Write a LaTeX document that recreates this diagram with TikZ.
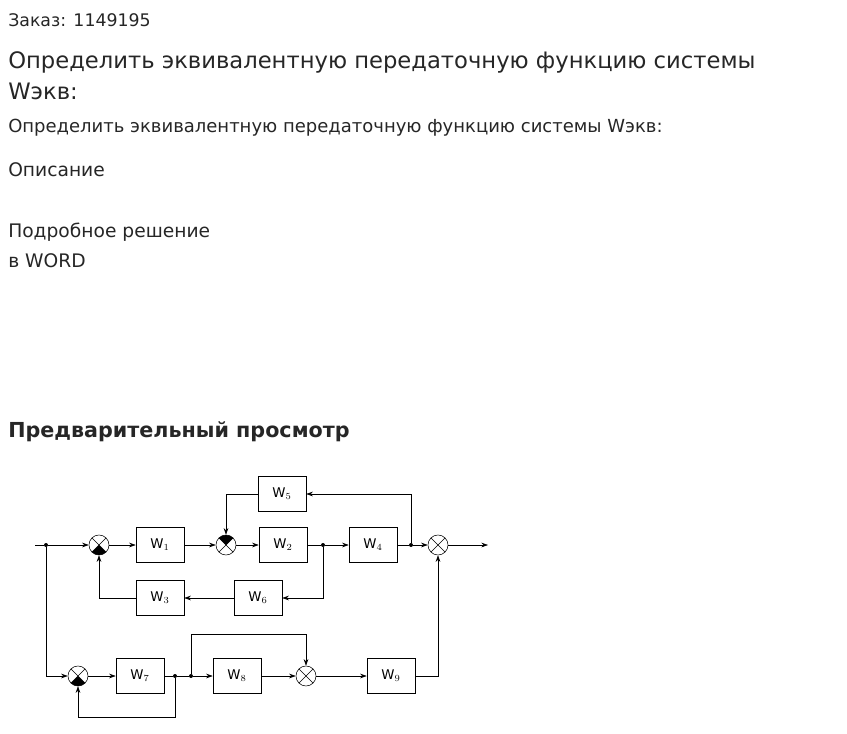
\documentclass[tikz,border=0pt]{standalone}
\usepackage{fontspec}
\setmainfont{DejaVu Sans}
\usetikzlibrary{arrows.meta}
\tikzset{
  >={Stealth[length=5pt,width=3.5pt]},
  blk/.style={draw, minimum width=36pt, minimum height=26pt, inner sep=0pt, font=\rmfamily},
  sum/.style={draw, circle, minimum size=15pt, inner sep=0pt,
    path picture={\draw (path picture bounding box.south west) -- (path picture bounding box.north east)
      (path picture bounding box.north west) -- (path picture bounding box.south east);}},
  sumdown/.style={sum, path picture={\fill (path picture bounding box.center) -- (225:12pt) arc (225:315:12pt) -- cycle;
    \draw (path picture bounding box.south west) -- (path picture bounding box.north east)
      (path picture bounding box.north west) -- (path picture bounding box.south east);}},
  sumup/.style={sum, path picture={\fill (path picture bounding box.center) -- (45:12pt) arc (45:135:12pt) -- cycle;
    \draw (path picture bounding box.south west) -- (path picture bounding box.north east)
      (path picture bounding box.north west) -- (path picture bounding box.south east);}},
  dot/.style={circle, fill, inner sep=0pt, minimum size=3pt},
  txt/.style={anchor=west, inner sep=0pt, text=black!85}
}
\newcommand{\Wn}[1]{$\mathrm{W}_{#1}$}
\begin{document}
\begin{tikzpicture}[x=0.75pt, y=-0.75pt]
\useasboundingbox (0,0) rectangle (847,733);
% Texts
\node[txt, font=\fontsize{13}{15}\selectfont] (order) at (8,20) {Заказ: 1149195};
\node[txt, font=\fontsize{17}{20}\selectfont] (head1) at (8,62) {Определить эквивалентную передаточную функцию системы};
\node[txt, font=\fontsize{17}{20}\selectfont] (head2) at (8,91) {Wэкв:};
\node[txt, font=\fontsize{13.5}{16}\selectfont] (task) at (8,128) {Определить эквивалентную передаточную функцию системы Wэкв:};
\node[txt, font=\fontsize{14}{16}\selectfont] (descr) at (8,170) {Описание};
\node[txt, font=\fontsize{14}{16}\selectfont] (sol1) at (8,232) {Подробное решение};
\node[txt, font=\fontsize{14}{16}\selectfont] (sol2) at (8,261) {в WORD};
\node[txt, font=\fontsize{15.5}{18}\selectfont\bfseries] (prev) at (8,432) {Предварительный просмотр};
% Upper chain
\coordinate (in) at (35,545);
\node[dot] (d0) at (46,545) {};
\node[sumdown] (s1) at (99,545) {};
\node[blk] (w1) at (160,545) {\Wn{1}};
\node[sumup] (s2) at (226,545) {};
\node[blk] (w2) at (283,545) {\Wn{2}};
\node[dot] (d1) at (323,545) {};
\node[blk] (w4) at (373,545) {\Wn{4}};
\node[dot] (d2) at (411,545) {};
\node[sum] (s3) at (438,545) {};
\coordinate (out) at (488,545);
\node[blk] (w5) at (282,494) {\Wn{5}};
\node[blk] (w6) at (258,598) {\Wn{6}};
\node[blk] (w3) at (160,598) {\Wn{3}};
% Lower chain
\node[sumdown] (s4) at (78,676) {};
\node[blk] (w7) at (140,676) {\Wn{7}};
\node[dot] (d3) at (175,676) {};
\node[dot] (d4) at (191,676) {};
\node[blk] (w8) at (237,676) {\Wn{8}};
\node[sum] (s5) at (306,676) {};
\node[blk] (w9) at (391,676) {\Wn{9}};
% Connections
\draw (in) -- (d0);
\draw[->] (d0) -- (s1);
\draw[->] (s1) -- (w1);
\draw[->] (w1) -- (s2);
\draw[->] (s2) -- (w2);
\draw (w2) -- (d1);
\draw[->] (d1) -- (w4);
\draw (w4) -- (d2);
\draw[->] (d2) -- (s3);
\draw[->] (s3) -- (out);
\draw[->] (d2) |- (w5);
\draw[->] (w5) -| (s2);
\draw[->] (d1) |- (w6);
\draw[->] (w6) -- (w3);
\draw[->] (w3) -| (s1);
\draw[->] (d0) |- (s4);
\draw[->] (s4) -- (w7);
\draw (w7) -- (d3) -- (d4);
\draw[->] (d4) -- (w8);
\draw[->] (w8) -- (s5);
\draw[->] (s5) -- (w9);
\draw[->] (w9) -| (s3);
\draw[->] (d4) |- (306,634) -- (s5);
\draw[->] (d3) |- (78,717) -- (s4);
\end{tikzpicture}
\end{document}
